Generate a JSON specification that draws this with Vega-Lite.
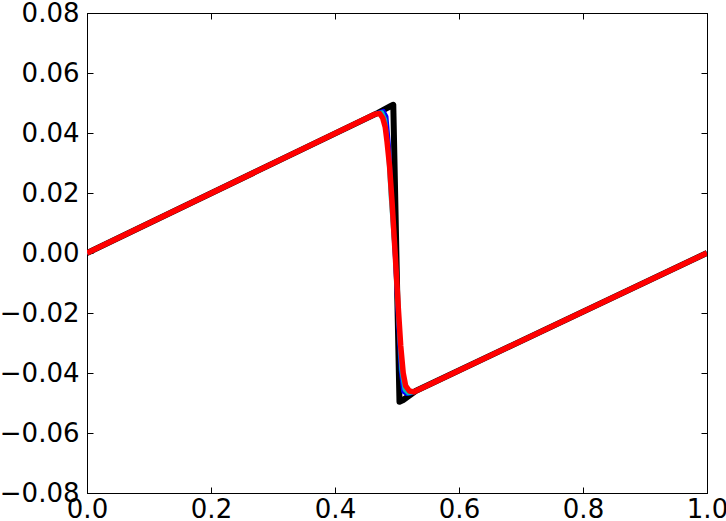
{
  "$schema": "https://vega.github.io/schema/vega-lite/v6.json",
  "width": 620,
  "height": 480,
  "autosize": {"type": "none"},
  "padding": {"left": 87, "top": 13, "right": 19, "bottom": 28},
  "background": "white",
  "config": {
    "view": {"stroke": "black", "strokeWidth": 1},
    "axis": {
      "labelFont": "DejaVu Sans",
      "labelFontSize": 26,
      "labelColor": "black",
      "domainColor": "black",
      "tickColor": "black",
      "grid": false,
      "labelFlush": false,
      "labelOverlap": false,
      "title": null
    }
  },
  "data": {
    "values": [
      {"s": "exact", "x": 0, "u": 0},
      {"s": "exact", "x": 0.47, "u": 0.0468},
      {"s": "exact", "x": 0.49, "u": 0.049},
      {"s": "exact", "x": 0.494, "u": 0.0494},
      {"s": "exact", "x": 0.504, "u": -0.0496},
      {"s": "exact", "x": 0.51, "u": -0.049},
      {"s": "exact", "x": 0.53, "u": -0.046},
      {"s": "exact", "x": 1, "u": 0},
      {"s": "blue", "x": 0, "u": 0},
      {"s": "blue", "x": 0.47, "u": 0.0468},
      {"s": "blue", "x": 0.478, "u": 0.0474},
      {"s": "blue", "x": 0.483, "u": 0.0455},
      {"s": "blue", "x": 0.487, "u": 0.036},
      {"s": "blue", "x": 0.492, "u": 0.016},
      {"s": "blue", "x": 0.497, "u": -0.003},
      {"s": "blue", "x": 0.502, "u": -0.024},
      {"s": "blue", "x": 0.506, "u": -0.039},
      {"s": "blue", "x": 0.51, "u": -0.0462},
      {"s": "blue", "x": 0.515, "u": -0.047},
      {"s": "blue", "x": 0.522, "u": -0.0468},
      {"s": "blue", "x": 1, "u": 0},
      {"s": "cyan", "x": 0, "u": 0},
      {"s": "cyan", "x": 0.468, "u": 0.0466},
      {"s": "cyan", "x": 0.476, "u": 0.0469},
      {"s": "cyan", "x": 0.481, "u": 0.0445},
      {"s": "cyan", "x": 0.485, "u": 0.036},
      {"s": "cyan", "x": 0.49, "u": 0.018},
      {"s": "cyan", "x": 0.497, "u": -0.002},
      {"s": "cyan", "x": 0.503, "u": -0.025},
      {"s": "cyan", "x": 0.507, "u": -0.039},
      {"s": "cyan", "x": 0.512, "u": -0.0455},
      {"s": "cyan", "x": 0.518, "u": -0.0468},
      {"s": "cyan", "x": 0.525, "u": -0.0465},
      {"s": "cyan", "x": 1, "u": 0},
      {"s": "red", "x": 0, "u": 0},
      {"s": "red", "x": 0.465, "u": 0.0463},
      {"s": "red", "x": 0.472, "u": 0.0465},
      {"s": "red", "x": 0.477, "u": 0.045},
      {"s": "red", "x": 0.481, "u": 0.042},
      {"s": "red", "x": 0.484, "u": 0.037},
      {"s": "red", "x": 0.488, "u": 0.029},
      {"s": "red", "x": 0.492, "u": 0.017},
      {"s": "red", "x": 0.497, "u": 0.0},
      {"s": "red", "x": 0.502, "u": -0.018},
      {"s": "red", "x": 0.506, "u": -0.031},
      {"s": "red", "x": 0.51, "u": -0.040},
      {"s": "red", "x": 0.514, "u": -0.0443},
      {"s": "red", "x": 0.52, "u": -0.046},
      {"s": "red", "x": 0.527, "u": -0.0463},
      {"s": "red", "x": 1, "u": 0}
    ]
  },
  "resolve": {"axis": {"x": "independent", "y": "independent"}},
  "layer": [
    {
      "transform": [{"filter": "datum.s === 'exact'"}],
      "mark": {"type": "line", "color": "black", "strokeWidth": 6, "strokeCap": "butt", "strokeJoin": "round", "clip": true},
      "encoding": {
        "x": {"field": "x", "type": "quantitative", "scale": {"domain": [0, 1], "nice": false, "zero": false},
          "axis": {"orient": "bottom", "values": [0, 0.2, 0.4, 0.6, 0.8, 1.0], "format": ".1f", "tickSize": -6, "labelPadding": 9}},
        "y": {"field": "u", "type": "quantitative", "scale": {"domain": [-0.08, 0.08], "nice": false, "zero": false},
          "axis": {"orient": "left", "values": [-0.08, -0.06, -0.04, -0.02, 0, 0.02, 0.04, 0.06, 0.08], "format": ".2f", "tickSize": -6, "labelPadding": 14}},
        "order": {"field": "x", "type": "quantitative"}
      }
    },
    {
      "transform": [{"filter": "datum.s === 'blue'"}],
      "mark": {"type": "line", "color": "#0000ff", "strokeWidth": 4, "strokeJoin": "round", "clip": true},
      "encoding": {
        "x": {"field": "x", "type": "quantitative",
          "axis": {"orient": "top", "values": [0, 0.2, 0.4, 0.6, 0.8, 1.0], "labels": false, "tickSize": -6}},
        "y": {"field": "u", "type": "quantitative",
          "axis": {"orient": "right", "values": [-0.08, -0.06, -0.04, -0.02, 0, 0.02, 0.04, 0.06, 0.08], "labels": false, "tickSize": -6}},
        "order": {"field": "x", "type": "quantitative"}
      }
    },
    {
      "transform": [{"filter": "datum.s === 'cyan'"}],
      "mark": {"type": "line", "color": "#00bfbf", "strokeWidth": 4, "strokeJoin": "round", "clip": true},
      "encoding": {
        "x": {"field": "x", "type": "quantitative", "axis": null},
        "y": {"field": "u", "type": "quantitative", "axis": null},
        "order": {"field": "x", "type": "quantitative"}
      }
    },
    {
      "transform": [{"filter": "datum.s === 'red'"}],
      "mark": {"type": "line", "color": "#ff0000", "strokeWidth": 5.5, "strokeJoin": "round", "clip": true},
      "encoding": {
        "x": {"field": "x", "type": "quantitative", "axis": null},
        "y": {"field": "u", "type": "quantitative", "axis": null},
        "order": {"field": "x", "type": "quantitative"}
      }
    }
  ]
}
